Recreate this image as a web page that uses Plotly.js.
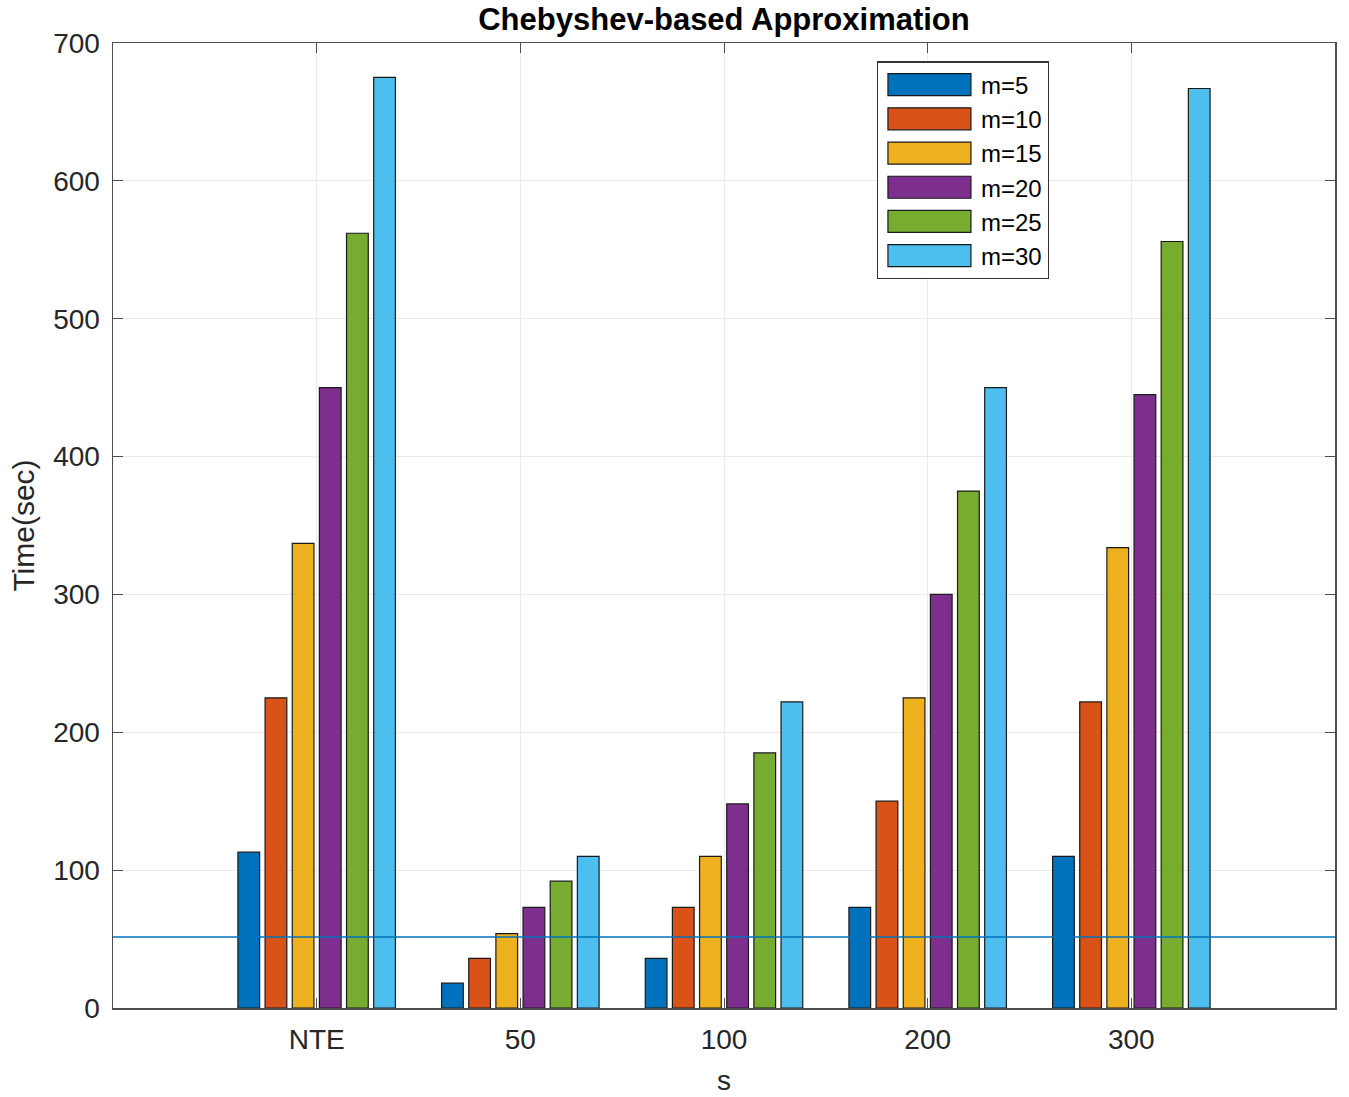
<!DOCTYPE html>
<html>
<head>
<meta charset="utf-8">
<script src="https://cdn.plot.ly/plotly-3.0.1.min.js"></script>
<style>html,body{margin:0;padding:0;background:#fff;}#chart{width:1349px;height:1097px;}</style>
</head>
<body>
<div id="chart"></div>
<script>
const categories = ["NTE", "50", "100", "200", "300"];
const seriesNames = ["m=5", "m=10", "m=15", "m=20", "m=25", "m=30"];
const m5  = [113, 18, 36, 73, 110];
const m10 = [225, 36, 73, 150, 222];
const m15 = [337, 54, 110, 225, 334];
const m20 = [450, 73, 148, 300, 445];
const m25 = [562, 92, 185, 375, 556];
const m30 = [675, 110, 222, 450, 667];
const thresholdValue = 51.5;
const colors = ["#0072BD", "#D95319", "#EDB120", "#7E2F8E", "#77AC30", "#4DBEEE"];
const seriesValues = [m5, m10, m15, m20, m25, m30];
const yTicks = [0, 100, 200, 300, 400, 500, 600, 700];

const font = "Liberation Sans, Arial, Helvetica, sans-serif";

const traces = seriesValues.map((vals, i) => ({
  type: "bar",
  x: categories,
  y: vals,
  name: seriesNames[i],
  marker: {color: colors[i], line: {color: "#1a1a1a", width: 1.2}},
  hoverinfo: "x+y+name"
}));

const layout = {
  width: 1349,
  height: 1097,
  paper_bgcolor: "#ffffff",
  plot_bgcolor: "#ffffff",
  margin: {l: 113, r: 14, t: 43, b: 89},
  barmode: "group",
  bargap: 0.2,
  bargroupgap: 0.2,
  font: {family: font, color: "#262626"},
  title: {
    text: "<b>Chebyshev-based Approximation</b>",
    font: {family: font, size: 31, color: "#000000"},
    x: 0.5, xref: "paper", xanchor: "center",
    y: 1, yref: "paper", yanchor: "bottom", pad: {b: 13}
  },
  xaxis: {
    type: "category",
    range: [-1, 5],
    tickvals: categories,
    ticktext: categories,
    showgrid: true,
    gridcolor: "#ebebeb",
    gridwidth: 1,
    showline: true,
    linecolor: "#4d4d4d",
    linewidth: 1.5,
    mirror: "allticks",
    ticks: "inside",
    ticklen: 10,
    tickcolor: "#4d4d4d",
    ticklabelstandoff: 6,
    tickfont: {family: font, size: 28, color: "#262626"},
    title: {text: "s", font: {family: font, size: 28, color: "#262626"}, standoff: 16},
    zeroline: false
  },
  yaxis: {
    range: [0, 700],
    tickvals: yTicks,
    showgrid: true,
    gridcolor: "#ebebeb",
    gridwidth: 1,
    showline: true,
    linecolor: "#4d4d4d",
    linewidth: 1.5,
    mirror: "allticks",
    ticks: "inside",
    ticklen: 10,
    tickcolor: "#4d4d4d",
    ticklabelstandoff: 6,
    tickfont: {family: font, size: 28, color: "#262626"},
    title: {text: "Time(sec)", font: {family: font, size: 30, color: "#262626"}, standoff: 9},
    zeroline: false
  },
  legend: {
    x: 0.625, y: 0.981, xanchor: "left", yanchor: "top",
    bgcolor: "#ffffff",
    bordercolor: "#333333",
    borderwidth: 1.2,
    font: {family: font, size: 24, color: "#000000"},
    tracegroupgap: 0,
    itemwidth: 93
  },
  shapes: [{
    type: "line", xref: "paper", x0: 0, x1: 1, yref: "y", y0: thresholdValue, y1: thresholdValue,
    line: {color: "#0072BD", width: 1.3}, layer: "above"
  }],
  showlegend: true
};

Plotly.newPlot("chart", traces, layout, {displayModeBar: false, staticPlot: true}).then(gd => {
  // widen the legend swatches to the look of the original
  gd.querySelectorAll(".legend .legendpoints path").forEach(p => {
    p.setAttribute("d", "M-41.5,11H41.5V-11H-41.5Z");
  });
});
</script>
</body>
</html>
